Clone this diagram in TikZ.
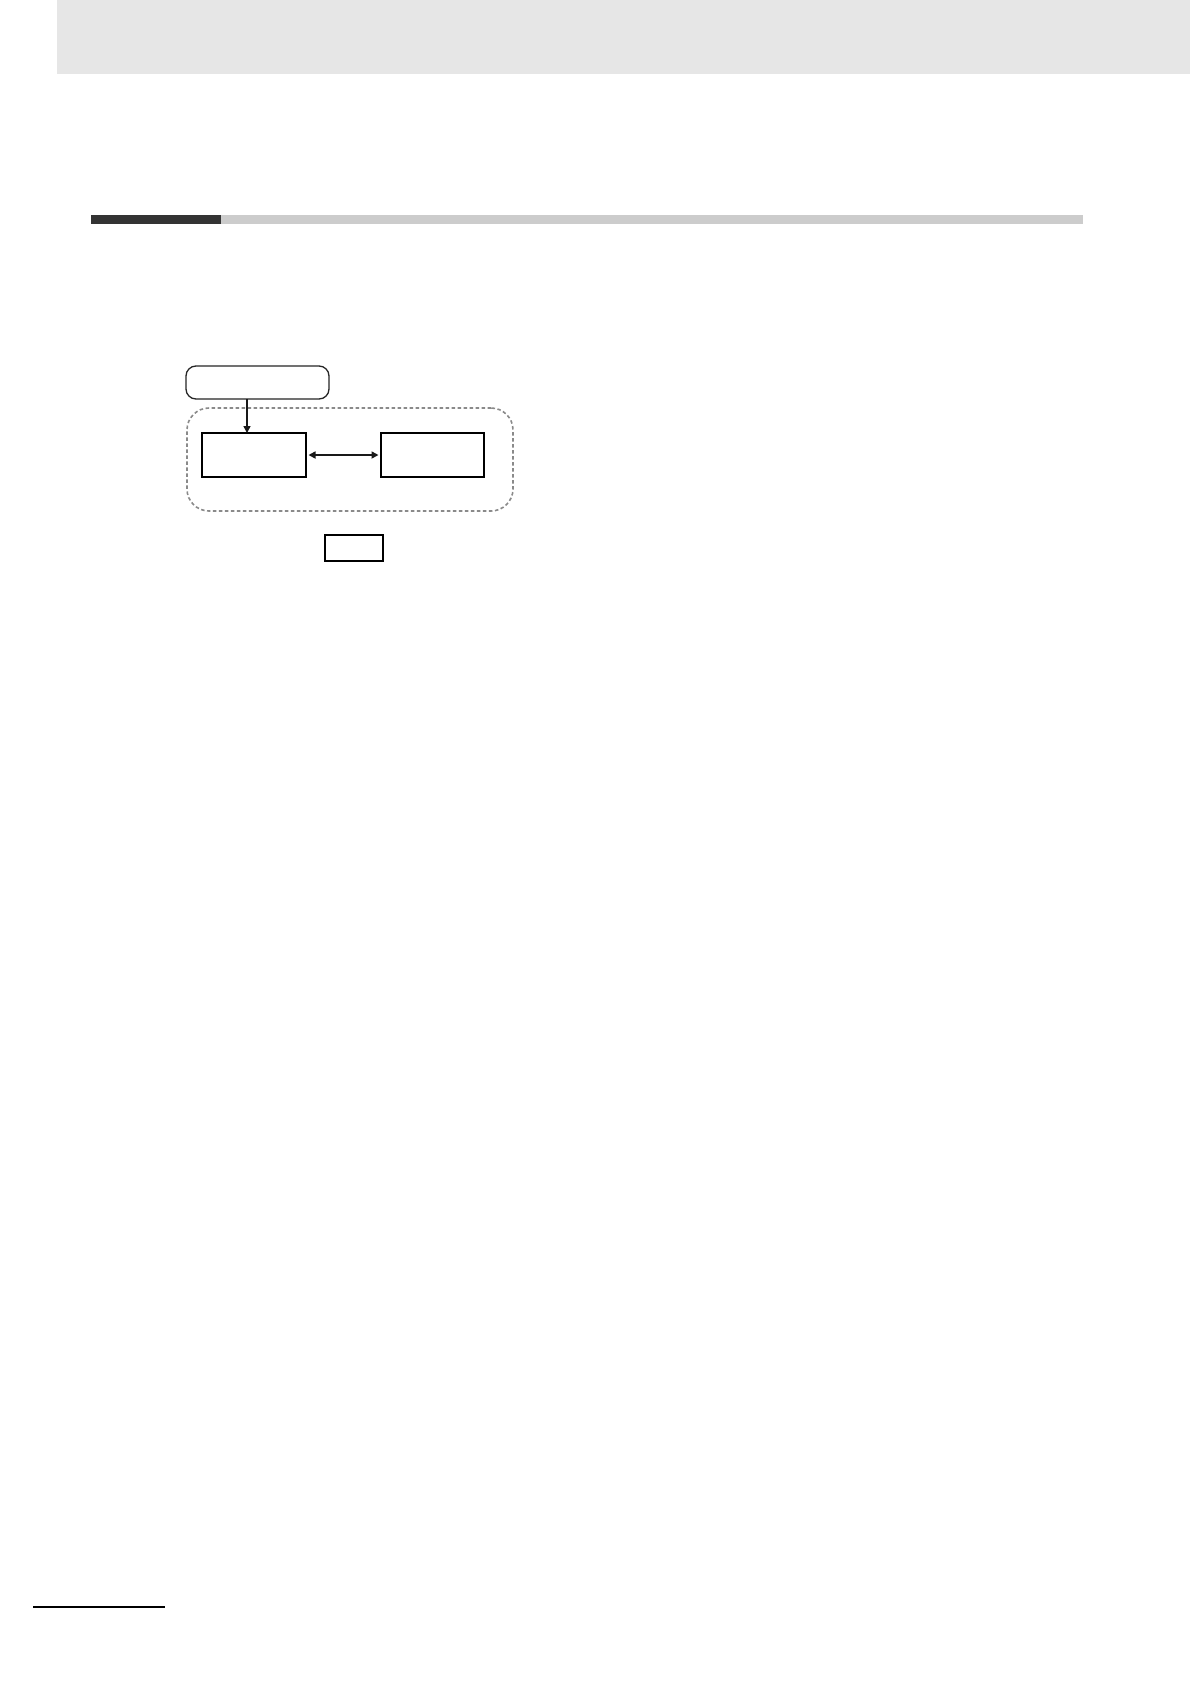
\documentclass[tikz,border=0pt]{standalone}
\usetikzlibrary{arrows.meta}
\definecolor{headgray}{HTML}{E6E6E6}
\definecolor{bardark}{HTML}{333333}
\definecolor{barlight}{HTML}{CCCCCC}
\definecolor{dashgray}{HTML}{8A8A8A}
\begin{document}
\begin{tikzpicture}[x=1pt,y=-1pt,
  >={Triangle[length=7pt,width=7pt]},
  boxnode/.style={draw=black,line width=1.5pt,inner sep=0pt,outer sep=0pt,minimum width=#1},
  boxnode/.default=104pt,
  roundnode/.style={draw=black!85,line width=1.3pt,rounded corners=10pt,inner sep=0pt,outer sep=0pt,minimum width=143pt,minimum height=33pt},
  groupnode/.style={draw=dashgray,line width=1.6pt,dash pattern=on 3.5pt off 2.5pt,rounded corners=22pt,inner sep=0pt,outer sep=0pt,minimum width=326pt,minimum height=103pt},
  conn/.style={line width=1.6pt,black!90}]
\useasboundingbox (0,0) rectangle (1190,1684);
\fill[white] (0,0) rectangle (1190,1684);
% header band
\fill[headgray] (57,0) rectangle (1190,74);
% section rule
\fill[bardark] (91,215) rectangle (221,224);
\fill[barlight] (221,215) rectangle (1083,224);
% diagram
\node[groupnode] (grp) at (350,459.5) {};
\node[roundnode] (top) at (257.5,382.5) {};
\node[boxnode,minimum height=44pt] (left) at (254,455) {};
\node[boxnode,minimum width=103pt,minimum height=44pt] (right) at (432.5,455) {};
\node[boxnode,minimum width=58pt,minimum height=26pt] (small) at (354,548) {};
\coordinate (ta) at (247,399);
\coordinate (tb) at (247,433);
\draw[conn,->] (ta) -- (tb);
\draw[conn,<->] ([xshift=2.5pt]left.east) -- ([xshift=-2.5pt]right.west);
% footer rule
\draw[line width=2pt,black] (33,1607) -- (165,1607);
\end{tikzpicture}
\end{document}
